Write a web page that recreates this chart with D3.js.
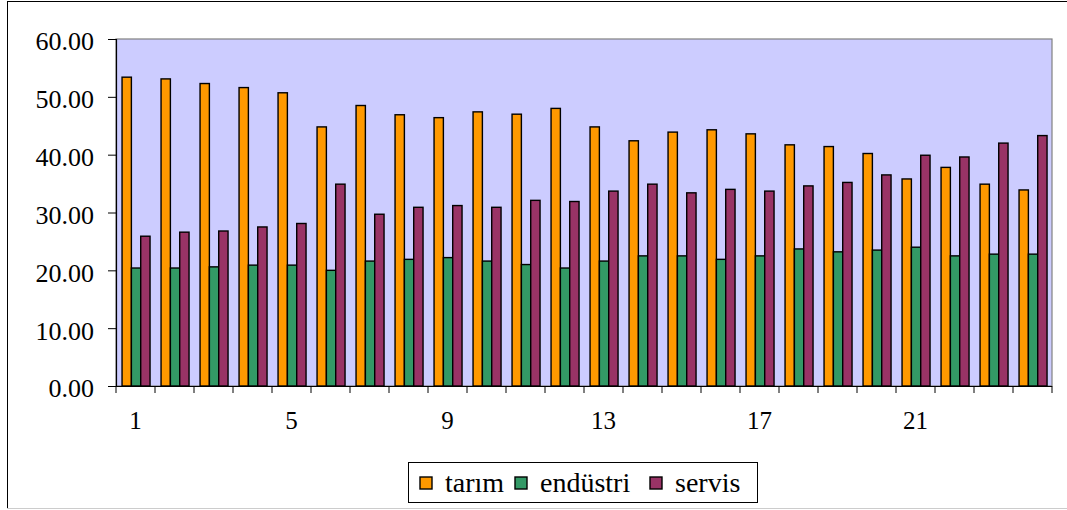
<!DOCTYPE html>
<html>
<head>
<meta charset="utf-8">
<script src="https://cdn.jsdelivr.net/npm/d3@7"></script>
<style>
  body { margin: 0; background: #fff; }
  svg text { font-family: "Liberation Serif", "Times New Roman", serif; fill: #000; }
</style>
</head>
<body>
<svg id="chart" width="1067" height="510"></svg>
<script>
// Data
const categories = d3.range(1, 25);
const seriesNames = ["tarım", "endüstri", "servis"];
const tarim = [53.4, 53.1, 52.3, 51.6, 50.7, 44.8, 48.5, 46.9, 46.4, 47.4, 47.0, 48.0,
               44.8, 42.4, 43.9, 44.3, 43.6, 41.7, 41.4, 40.2, 35.8, 37.8, 34.9, 33.9];
const endustri = [20.4, 20.4, 20.6, 20.9, 20.9, 20.0, 21.6, 21.9, 22.2, 21.6, 21.0, 20.4,
                  21.6, 22.5, 22.5, 21.9, 22.5, 23.7, 23.2, 23.5, 24.0, 22.5, 22.8, 22.8];
const servis = [25.9, 26.6, 26.8, 27.5, 28.1, 34.9, 29.7, 30.9, 31.2, 30.9, 32.1, 31.9,
                33.7, 34.9, 33.4, 34.0, 33.7, 34.6, 35.2, 36.5, 39.9, 39.6, 42.0, 43.3];
const yTicks = [0, 10, 20, 30, 40, 50, 60];
const xLabels = [1, 5, 9, 13, 17, 21];

const colors = ["#FF9900", "#339966", "#993366"];
const values = [tarim, endustri, servis];

const svg = d3.select("#chart");

// outer frame
svg.append("line").attr("x1", 7.5).attr("x2", 7.5).attr("y1", 1).attr("y2", 509).attr("stroke", "#000");
svg.append("line").attr("x1", 7).attr("x2", 1067).attr("y1", 1.5).attr("y2", 1.5).attr("stroke", "#000");
svg.append("line").attr("x1", 7).attr("x2", 1067).attr("y1", 508.5).attr("y2", 508.5).attr("stroke", "#ccc");

const plot = { left: 116, right: 1052, top: 39, bottom: 386 };

const x = d3.scaleBand().domain(categories).range([plot.left, plot.right]).padding(0);
const xs = d3.scaleBand().domain(seriesNames).range([0, x.bandwidth()])
  .paddingInner(0).paddingOuter(0.59).align(0.55);
const y = d3.scaleLinear().domain([0, 60]).range([plot.bottom, plot.top]);

// plot area
svg.append("rect")
  .attr("x", plot.left).attr("y", plot.top)
  .attr("width", plot.right - plot.left).attr("height", plot.bottom - plot.top)
  .attr("fill", "#CCCCFF").attr("stroke", "#808080").attr("stroke-width", 1.2);

// bars
const groups = svg.append("g").selectAll("g")
  .data(categories)
  .join("g")
  .attr("transform", d => `translate(${x(d)},0)`);

groups.selectAll("rect")
  .data((c, i) => seriesNames.map((s, k) => ({ s, k, v: values[k][i] })))
  .join("rect")
  .attr("x", d => xs(d.s))
  .attr("width", xs.bandwidth())
  .attr("y", d => y(d.v))
  .attr("height", d => plot.bottom - y(d.v))
  .attr("fill", d => colors[d.k])
  .attr("stroke", "#000")
  .attr("stroke-width", 1.4);

// y axis
const yAxis = d3.axisLeft(y).tickValues(yTicks).tickSize(8).tickFormat(d3.format(".2f"));
const gy = svg.append("g")
  .attr("transform", `translate(${plot.left},0)`)
  .call(yAxis);
gy.select(".domain").attr("stroke", "#000").attr("stroke-width", 1.2);
gy.selectAll(".tick line").attr("stroke", "#000");
gy.selectAll(".tick text")
  .attr("x", -22).attr("dy", "0.42em")
  .style("font-size", "26px");

// x axis: ticks at category boundaries
const xAxisLine = svg.append("g");
xAxisLine.append("line")
  .attr("x1", plot.left).attr("x2", plot.right)
  .attr("y1", plot.bottom + 0.5).attr("y2", plot.bottom + 0.5)
  .attr("stroke", "#000").attr("stroke-width", 1.2);
xAxisLine.selectAll("line.tk")
  .data(categories.concat([null]))
  .join("line")
  .attr("class", "tk")
  .attr("x1", (d, i) => i < categories.length ? x(d) : plot.right)
  .attr("x2", (d, i) => i < categories.length ? x(d) : plot.right)
  .attr("y1", plot.bottom).attr("y2", plot.bottom + 7)
  .attr("stroke", "#000");

svg.append("g").selectAll("text")
  .data(xLabels)
  .join("text")
  .attr("x", d => x(d) + x.bandwidth() / 2)
  .attr("y", 429)
  .attr("text-anchor", "middle")
  .style("font-size", "25px")
  .text(d => d);

// legend
const legend = svg.append("g").attr("transform", "translate(408,462)");
legend.append("rect")
  .attr("x", 0.5).attr("y", 0.5).attr("width", 349).attr("height", 40)
  .attr("fill", "#fff").attr("stroke", "#000");
const legendX = [12, 107, 242];
seriesNames.forEach((name, k) => {
  legend.append("rect")
    .attr("x", legendX[k]).attr("y", 15)
    .attr("width", 12).attr("height", 12)
    .attr("fill", colors[k]).attr("stroke", "#000").attr("stroke-width", 1.4);
  legend.append("text")
    .attr("x", legendX[k] + 25).attr("y", 30)
    .style("font-size", "28px")
    .text(name);
});
</script>
</body>
</html>
